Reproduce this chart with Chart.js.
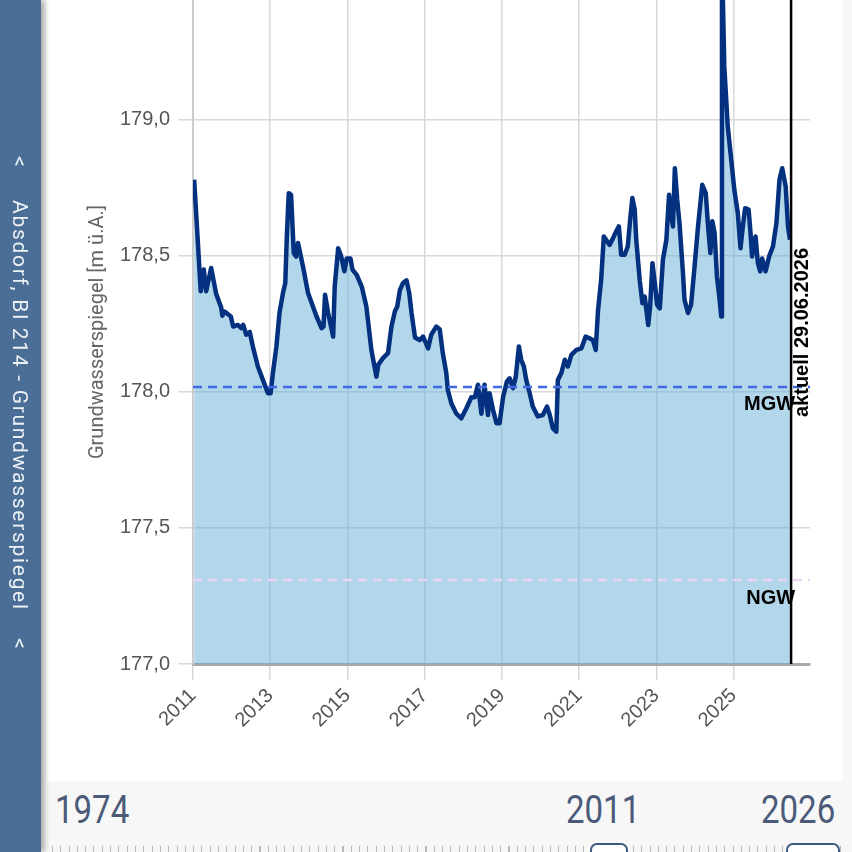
<!DOCTYPE html>
<html>
<head>
<meta charset="utf-8">
<script src="https://cdn.jsdelivr.net/npm/chart.js@4"></script>
<style>
  html, body { margin: 0; padding: 0; }
  body { width: 852px; height: 852px; overflow: hidden; background: #f7f7f7; position: relative; font-family: Roboto, sans-serif; }
  #sidebar { position: absolute; left: 0; top: 0; width: 41px; height: 852px; background: #4a6e96; box-shadow: 3px 0 6px rgba(0,0,0,0.35); z-index: 2; }
  .vtext { position: absolute; writing-mode: vertical-rl; color: #eef2f7; font-size: 21px; line-height: 24px; left: 8px; white-space: nowrap; }
  #card { position: absolute; left: 47px; top: 0; width: 795px; height: 781px; background: #fff; }
  #chartBox { position: absolute; left: 50px; top: 0; width: 792px; height: 780px; }
  .year { position: absolute; top: 790px; font-size: 33px; line-height: 36px; color: #4a5a78; font-family: Roboto, sans-serif; transform: scaleY(1.15); transform-origin: top left; }
  #ticks { position: absolute; left: 52px; top: 846px; width: 790px; height: 6px;
    background: repeating-linear-gradient(to right, #b8b8b8 0, #b8b8b8 1px, transparent 1px, transparent 8.3px); }
  .handle { position: absolute; top: 843px; height: 30px; background: #fff; border: 2px solid #3d5a80; border-radius: 7px; }
</style>
</head>
<body>
<div id="sidebar">
  <div class="vtext" style="top:156px;">&lt;</div>
  <div class="vtext" style="top:200px; letter-spacing:1.7px;">Absdorf, Bl 214 - Grundwasserspiegel</div>
  <div class="vtext" style="top:638px;">&lt;</div>
</div>
<div id="card"></div>
<div id="chartBox"><canvas id="gwChart" width="792" height="780"></canvas></div>
<div class="year" style="left:55px;">1974</div>
<div class="year" style="left:566px;">2011</div>
<div class="year" style="left:761px;">2026</div>
<div id="ticks"></div>
<div class="handle" style="left:590px; width:34px;"></div>
<div class="handle" style="left:786px; width:50px;"></div>

<script>
// messwerte (jahr als dezimalzahl, grundwasserspiegel in m ü.A.)
const years = [
  2011.03, 2011.20, 2011.28, 2011.34, 2011.47, 2011.60, 2011.73, 2011.76, 2011.82, 2011.98,
  2012.04, 2012.16, 2012.25, 2012.30, 2012.38, 2012.47, 2012.55, 2012.68, 2012.81, 2012.94,
  2013.01, 2013.07, 2013.16, 2013.24, 2013.33, 2013.39, 2013.43, 2013.48, 2013.54, 2013.61,
  2013.67, 2013.72, 2013.85, 2013.98, 2014.20, 2014.33, 2014.38, 2014.42, 2014.50, 2014.63,
  2014.67, 2014.76, 2014.84, 2014.92, 2014.98, 2015.08, 2015.13, 2015.24, 2015.37, 2015.49,
  2015.62, 2015.75, 2015.80, 2015.92, 2016.05, 2016.14, 2016.23, 2016.29, 2016.36, 2016.44,
  2016.53, 2016.60, 2016.66, 2016.75, 2016.87, 2016.96, 2017.09, 2017.17, 2017.30, 2017.39,
  2017.47, 2017.56, 2017.60, 2017.69, 2017.82, 2017.95, 2018.08, 2018.21, 2018.30, 2018.38,
  2018.47, 2018.55, 2018.64, 2018.68, 2018.77, 2018.86, 2018.94, 2019.03, 2019.13, 2019.20,
  2019.29, 2019.36, 2019.44, 2019.50, 2019.57, 2019.63, 2019.72, 2019.80, 2019.93, 2020.06,
  2020.17, 2020.24, 2020.32, 2020.41, 2020.45, 2020.54, 2020.63, 2020.71, 2020.80, 2020.93,
  2021.06, 2021.17, 2021.27, 2021.36, 2021.43, 2021.49, 2021.57, 2021.64, 2021.70, 2021.79,
  2021.88, 2021.96, 2022.03, 2022.09, 2022.18, 2022.26, 2022.33, 2022.38, 2022.44, 2022.48,
  2022.57, 2022.64, 2022.70, 2022.79, 2022.84, 2022.90, 2022.96, 2023.02, 2023.09, 2023.17,
  2023.26, 2023.33, 2023.39, 2023.43, 2023.48, 2023.54, 2023.60, 2023.69, 2023.73, 2023.82,
  2023.90, 2023.99, 2024.08, 2024.19, 2024.28, 2024.34, 2024.40, 2024.45, 2024.51, 2024.57,
  2024.64, 2024.68, 2024.70, 2024.76, 2024.85, 2024.94, 2025.02, 2025.11, 2025.18, 2025.24,
  2025.30, 2025.39, 2025.44, 2025.48, 2025.57, 2025.63, 2025.69, 2025.74, 2025.83, 2025.92,
  2026.02, 2026.11, 2026.19, 2026.26, 2026.35, 2026.41, 2026.46
];
const levels = [
  178.78, 178.37, 178.45, 178.37, 178.455, 178.36, 178.31, 178.28, 178.295, 178.277,
  178.24, 178.246, 178.234, 178.246, 178.21, 178.22, 178.167, 178.093, 178.044, 177.995,
  177.995, 178.069, 178.167, 178.29, 178.363, 178.40, 178.571, 178.73, 178.724, 178.51,
  178.497, 178.547, 178.46, 178.363, 178.277, 178.234, 178.24, 178.357, 178.29, 178.203,
  178.387, 178.528, 178.497, 178.443, 178.49, 178.49, 178.449, 178.43, 178.387, 178.314,
  178.154, 178.056, 178.10, 178.124, 178.142, 178.24, 178.296, 178.314, 178.375, 178.40,
  178.41, 178.363, 178.29, 178.20, 178.19, 178.203, 178.16, 178.21, 178.24, 178.23,
  178.142, 178.069, 178.007, 177.958, 177.92, 177.903, 177.94, 177.98, 177.98, 178.026,
  177.92, 178.026, 177.915, 177.995, 177.934, 177.885, 177.885, 177.98, 178.038, 178.05,
  178.014, 178.056, 178.167, 178.118, 178.093, 178.044, 177.995, 177.946, 177.91, 177.915,
  177.946, 177.915, 177.866, 177.854, 178.044, 178.069, 178.118, 178.093, 178.136, 178.154,
  178.16, 178.203, 178.197, 178.19, 178.154, 178.30, 178.41, 178.571, 178.559, 178.54,
  178.565, 178.59, 178.608, 178.504, 178.504, 178.534, 178.645, 178.712, 178.67, 178.559,
  178.41, 178.326, 178.35, 178.246, 178.314, 178.473, 178.40, 178.32, 178.307, 178.485,
  178.559, 178.724, 178.645, 178.608, 178.822, 178.706, 178.62, 178.436, 178.338, 178.29,
  178.32, 178.46, 178.608, 178.761, 178.73, 178.608, 178.51, 178.627, 178.583, 178.424,
  178.338, 178.277, 179.60, 179.196, 178.975, 178.853, 178.743, 178.657, 178.528, 178.608,
  178.675, 178.67, 178.583, 178.497, 178.571, 178.473, 178.443, 178.49, 178.443, 178.497,
  178.534, 178.62, 178.78, 178.822, 178.755, 178.608, 178.559
];

const xTicks = [2011, 2013, 2015, 2017, 2019, 2021, 2023, 2025];
const yTicks = [177.0, 177.5, 178.0, 178.5, 179.0];

const mgw = 178.018;   // mittlerer grundwasserstand
const ngw = 177.309;   // niedrigster grundwasserstand
const aktuellJahr = 2026.49;
const aktuellText = 'aktuell 29.06.2026';

const xMin = 2011, xMax = 2026.98;
const yMin = 177.0, yMax = 179.44;

const points = years.map((x, i) => ({ x: x, y: levels[i] }));

// beschriftungen MGW / NGW / aktuell
const labelPlugin = {
  id: 'labels',
  afterDatasetsDraw(chart) {
    const ctx = chart.ctx;
    const xs = chart.scales.x, ys = chart.scales.y;
    const xl = xs.getPixelForValue(aktuellJahr);
    ctx.save();
    ctx.fillStyle = '#000';
    ctx.font = 'bold 20px "Liberation Sans", Arial, sans-serif';
    ctx.textAlign = 'right';
    ctx.textBaseline = 'middle';
    ctx.fillText('MGW', xl + 4, ys.getPixelForValue(mgw) + 18);
    ctx.fillText('NGW', xl + 4, ys.getPixelForValue(ngw) + 19);
    ctx.translate(xl + 1, 417);
    ctx.rotate(-Math.PI / 2);
    ctx.textAlign = 'left';
    ctx.textBaseline = 'top';
    ctx.font = 'bold 20px "Liberation Sans", Arial, sans-serif';
    ctx.fillText(aktuellText, 0, 0);
    ctx.restore();
  }
};

const ctx = document.getElementById('gwChart').getContext('2d');
const gwChart = new Chart(ctx, {
  type: 'line',
  data: {
    datasets: [
      {
        label: 'Grundwasserspiegel',
        data: points,
        borderColor: '#03317f',
        borderWidth: 4.5,
        backgroundColor: 'rgba(103,175,213,0.5)',
        fill: 'start',
        pointRadius: 0,
        tension: 0,
        borderJoinStyle: 'round',
        order: 3
      },
      {
        label: 'MGW',
        data: [{ x: xMin, y: mgw }, { x: xMax, y: mgw }],
        borderColor: '#4169e1',
        borderWidth: 2.5,
        borderDash: [9, 6],
        pointRadius: 0,
        fill: false,
        order: 2
      },
      {
        label: 'NGW',
        data: [{ x: xMin, y: ngw }, { x: xMax, y: ngw }],
        borderColor: '#ecd4f6',
        borderWidth: 2.5,
        borderDash: [9, 6],
        pointRadius: 0,
        fill: false,
        order: 2
      },
      {
        label: 'aktuell',
        data: [{ x: aktuellJahr, y: yMin }, { x: aktuellJahr, y: yMax }],
        borderColor: '#000',
        borderWidth: 2.5,
        pointRadius: 0,
        fill: false,
        order: 1
      }
    ]
  },
  options: {
    responsive: false,
    animation: false,
    layout: { padding: { left: 0, right: 32, top: 0, bottom: 0 } },
    plugins: {
      legend: { display: false },
      tooltip: { enabled: false }
    },
    scales: {
      x: {
        type: 'linear',
        min: xMin,
        max: xMax,
        afterBuildTicks: (scale) => { scale.ticks = xTicks.map(v => ({ value: v })); },
        afterFit: (scale) => { scale.height = 116; scale.paddingLeft = 0; scale.paddingRight = 0; },
        ticks: {
          minRotation: 45,
          maxRotation: 45,
          padding: 4,
          color: '#555',
          font: { family: '"Liberation Sans", Arial, sans-serif', size: 20 },
          callback: (v) => String(v)
        },
        grid: { color: '#d8d8d8', lineWidth: 1.5, tickLength: 16 },
        border: { color: '#a8a8a8', width: 3 }
      },
      y: {
        min: yMin,
        max: yMax,
        afterBuildTicks: (scale) => { scale.ticks = yTicks.map(v => ({ value: v })); },
        afterFit: (scale) => { scale.width = 143; scale.paddingTop = 0; scale.paddingBottom = 0; },
        ticks: {
          padding: 8,
          color: '#555',
          font: { family: '"Liberation Sans", Arial, sans-serif', size: 20 },
          callback: (v) => v.toFixed(1).replace('.', ',')
        },
        title: {
          display: true,
          text: 'Grundwasserspiegel [m ü.A.]',
          color: '#666',
          font: { family: 'Roboto, sans-serif', size: 20 },
          padding: { top: 36, bottom: 0 }
        },
        grid: { color: '#d8d8d8', lineWidth: 1.5, tickLength: 15 },
        border: { color: '#cccccc', width: 2 }
      }
    }
  },
  plugins: [labelPlugin]
});
</script>
</body>
</html>
